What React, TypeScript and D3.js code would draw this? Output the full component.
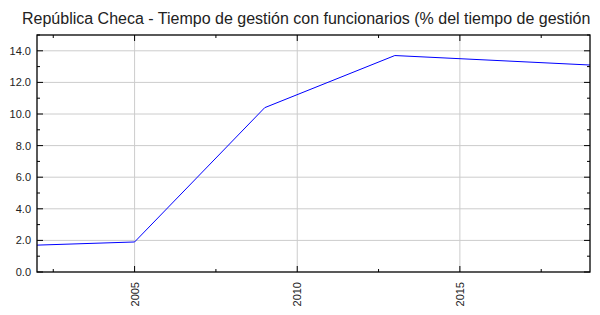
import React from "react";
import * as d3 from "d3";

const title = "República Checa - Tiempo de gestión con funcionarios (% del tiempo de gestión";
const years = [2002, 2005, 2009, 2013, 2019];
const values = [1.7, 1.9, 10.4, 13.7, 13.1];
const xMajorTicks = [2005, 2010, 2015];
const xMinorTicks = [2002.5, 2007.5, 2012.5, 2017.5];
const yMajorTicks = [0, 2, 4, 6, 8, 10, 12, 14];
const yMinorTicks = [1, 3, 5, 7, 9, 11, 13, 15];

const W = 600, H = 315;
const m = { left: 37, right: 590, top: 35, bottom: 272 };

export default function App() {
  const x = d3.scaleLinear().domain([2002, 2019]).range([m.left, m.right]);
  const y = d3.scaleLinear().domain([0, 15]).range([m.bottom, m.top]);
  const line = d3.line<number>().x((_, i) => x(years[i])).y((d) => y(d));
  const font = "'Liberation Sans', Arial, sans-serif";
  return (
    <svg width={W} height={H} style={{ position: "absolute", left: 0, top: 0 }} fontFamily={font}>
      <rect x={0} y={0} width={W} height={H} fill="#fff" />
      <defs>
        <clipPath id="plot">
          <rect x={m.left} y={m.top} width={m.right - m.left} height={m.bottom - m.top} />
        </clipPath>
      </defs>
      <text x={22} y={24} fontSize={16} fill="#222">{title}</text>
      {xMajorTicks.map((t) => (
        <line key={"gx" + t} x1={x(t)} x2={x(t)} y1={m.top} y2={m.bottom} stroke="#cccccc" />
      ))}
      {yMajorTicks.filter((t) => t > 0).map((t) => (
        <line key={"gy" + t} x1={m.left} x2={m.right} y1={y(t)} y2={y(t)} stroke="#cccccc" />
      ))}
      <path d={line(values) || ""} fill="none" stroke="#0000ff" strokeWidth={1} clipPath="url(#plot)" />
      <rect x={m.left} y={m.top} width={m.right - m.left} height={m.bottom - m.top} fill="none" stroke="#000" strokeWidth={1.3} />
      {yMajorTicks.map((t) => (
        <g key={"ty" + t}>
          <line x1={m.left} x2={m.left + 6} y1={y(t)} y2={y(t)} stroke="#000" />
          <line x1={m.right - 6} x2={m.right} y1={y(t)} y2={y(t)} stroke="#000" />
          <text x={m.left - 6} y={y(t) + 4} fontSize={11} textAnchor="end" fill="#222">{t.toFixed(1)}</text>
        </g>
      ))}
      {yMinorTicks.map((t) => (
        <g key={"my" + t}>
          <line x1={m.left} x2={m.left + 3} y1={y(t)} y2={y(t)} stroke="#000" />
          <line x1={m.right - 3} x2={m.right} y1={y(t)} y2={y(t)} stroke="#000" />
        </g>
      ))}
      {xMajorTicks.map((t) => (
        <g key={"tx" + t}>
          <line x1={x(t)} x2={x(t)} y1={m.bottom} y2={m.bottom - 6} stroke="#000" />
          <line x1={x(t)} x2={x(t)} y1={m.top} y2={m.top + 6} stroke="#000" />
          <text transform={`translate(${x(t) + 4},${m.bottom + 10}) rotate(-90)`} fontSize={11} textAnchor="end" fill="#222">{t}</text>
        </g>
      ))}
      {xMinorTicks.map((t) => (
        <g key={"mx" + t}>
          <line x1={x(t)} x2={x(t)} y1={m.bottom} y2={m.bottom - 3} stroke="#000" />
          <line x1={x(t)} x2={x(t)} y1={m.top} y2={m.top + 3} stroke="#000" />
        </g>
      ))}
    </svg>
  );
}
